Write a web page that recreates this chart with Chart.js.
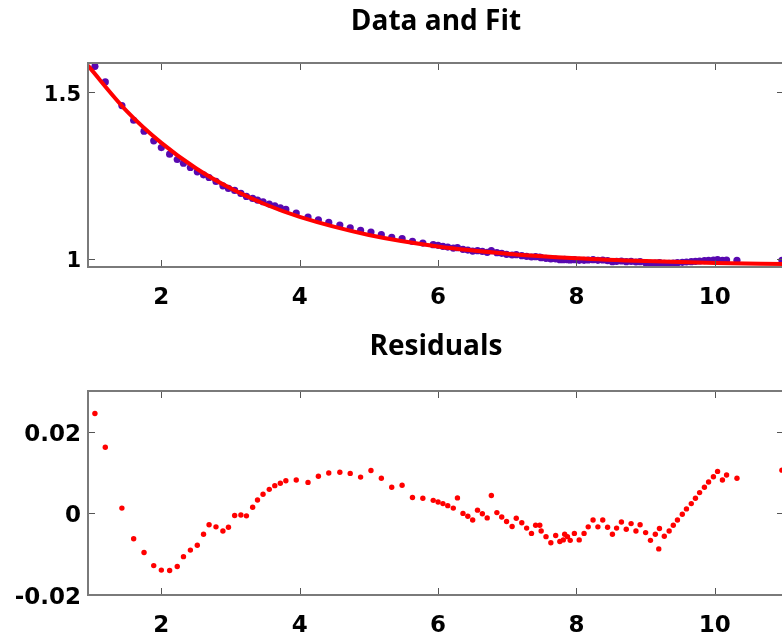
<!DOCTYPE html>
<html>
<head>
<meta charset="utf-8">
<script src="https://cdn.jsdelivr.net/npm/chart.js@4/dist/chart.umd.min.js"></script>
<style>
    html, body { margin: 0; padding: 0; background: #fff; overflow: hidden; }
    .panel { position: absolute; left: 0; }
    #fitPanel { top: 0; }
    #residPanel { top: 325px; }
</style>
</head>
<body>
<div class="panel" id="fitPanel"><canvas id="fitChart" width="800" height="325"></canvas></div>
<div class="panel" id="residPanel"><canvas id="residChart" width="800" height="318"></canvas></div>
<script>
// sample positions shared by both panels
const xVals = [
    1.04, 1.19, 1.43, 1.60, 1.75, 1.89, 2.00, 2.12, 2.23, 2.32,
    2.42, 2.52, 2.61, 2.69, 2.79, 2.89, 2.97, 3.06, 3.15, 3.23,
    3.32, 3.39, 3.47, 3.56, 3.64, 3.72, 3.80, 3.95, 4.12, 4.27,
    4.42, 4.58, 4.73, 4.88, 5.03, 5.18, 5.33, 5.48, 5.63, 5.78,
    5.93, 6.00, 6.07, 6.14, 6.22, 6.28, 6.36, 6.43, 6.50, 6.57,
    6.64, 6.71, 6.77, 6.85, 6.92, 6.99, 7.07, 7.13, 7.21, 7.28,
    7.35, 7.41, 7.47, 7.49, 7.56, 7.63, 7.70, 7.76, 7.81, 7.83,
    7.87, 7.91, 7.97, 8.04, 8.11, 8.17, 8.24, 8.31, 8.38, 8.45,
    8.52, 8.58, 8.65, 8.72, 8.79, 8.86, 8.92, 9.00, 9.07, 9.14,
    9.19, 9.20, 9.27, 9.34, 9.40, 9.46, 9.53, 9.59, 9.66, 9.72,
    9.78, 9.85, 9.91, 9.98, 10.04, 10.11, 10.17, 10.32, 10.97
];

const measured = [
    1.578, 1.531, 1.460, 1.416, 1.383, 1.354, 1.334, 1.314, 1.298, 1.287,
    1.274, 1.261, 1.252, 1.244, 1.232, 1.219, 1.211, 1.205, 1.196, 1.187,
    1.181, 1.176, 1.171, 1.164, 1.159, 1.153, 1.148, 1.137, 1.125, 1.117,
    1.109, 1.101, 1.093, 1.085, 1.080, 1.072, 1.064, 1.060, 1.052, 1.047,
    1.042, 1.040, 1.037, 1.035, 1.032, 1.033, 1.028, 1.026, 1.023, 1.024,
    1.022, 1.019, 1.024, 1.018, 1.016, 1.013, 1.011, 1.012, 1.009, 1.007,
    1.005, 1.006, 1.005, 1.003, 1.001, 0.999, 0.999, 0.997, 0.997, 0.998,
    0.997, 0.996, 0.997, 0.995, 0.995, 0.996, 0.997, 0.995, 0.996, 0.994,
    0.991, 0.992, 0.993, 0.991, 0.992, 0.990, 0.991, 0.988, 0.986, 0.987,
    0.983, 0.988, 0.986, 0.986, 0.987, 0.988, 0.989, 0.990, 0.991, 0.992,
    0.993, 0.994, 0.995, 0.996, 0.997, 0.995, 0.996, 0.995, 0.995
];

const residuals = [
    0.0245, 0.0162, 0.0013, -0.0062, -0.0096, -0.0128, -0.0139, -0.0140, -0.0130, -0.0106,
    -0.0090, -0.0078, -0.0051, -0.0028, -0.0033, -0.0043, -0.0034, -0.0005, -0.0004, -0.0006,
    0.0015, 0.0033, 0.0047, 0.0059, 0.0068, 0.0074, 0.0080, 0.0082, 0.0076, 0.0091,
    0.0099, 0.0101, 0.0098, 0.0089, 0.0105, 0.0086, 0.0064, 0.0069, 0.0039, 0.0037,
    0.0032, 0.0028, 0.0024, 0.0019, 0.0013, 0.0038, 0.0000, -0.0007, -0.0016, 0.0008,
    -0.0001, -0.0011, 0.0044, 0.0002, -0.0009, -0.0020, -0.0032, -0.0012, -0.0023, -0.0036,
    -0.0049, -0.0029, -0.0029, -0.0043, -0.0057, -0.0072, -0.0054, -0.0069, -0.0065, -0.0051,
    -0.0057, -0.0066, -0.0049, -0.0065, -0.0049, -0.0033, -0.0016, -0.0033, -0.0016, -0.0034,
    -0.0051, -0.0036, -0.0021, -0.0039, -0.0025, -0.0043, -0.0028, -0.0047, -0.0066, -0.0051,
    -0.0087, -0.0037, -0.0056, -0.0043, -0.0029, -0.0016, -0.0002, 0.0011, 0.0024, 0.0037,
    0.0051, 0.0064, 0.0077, 0.0090, 0.0103, 0.0082, 0.0094, 0.0086, 0.0106
];

// fitted curve, sampled along x
const fitX = [0.94, 1.5, 2, 2.5, 3, 3.5, 4, 5, 6, 7, 8, 9, 10, 11];
const fitY = [1.580, 1.4435, 1.348, 1.2718, 1.2115, 1.1635, 1.1254, 1.0711, 1.0367, 1.0151, 1.0014, 0.9928, 0.9873, 0.9839];

const xTicks = [2, 4, 6, 8, 10];
const fitTicks = [1, 1.5];
const fitTickLabels = ['1', '1.5'];
const residTicks = [-0.02, 0, 0.02];
const residTickLabels = ['-0.02', '0', '0.02'];

const tickFont = 'DejaVu Sans';
const titleFont = 'Open Sans';

function toPoints(xs, ys) {
    return xs.map((x, i) => ({ x: x, y: ys[i] }));
}

// box around the plot area with tick marks pointing inward
const framePlugin = {
    id: 'frame',
    afterDatasetsDraw(chart) {
        const ctx = chart.ctx;
        const a = chart.chartArea;
        const xs = chart.scales.x;
        const ys = chart.scales.y;
        ctx.save();
        ctx.strokeStyle = '#555';
        ctx.lineWidth = 1;
        ctx.beginPath();
        xs.ticks.forEach(t => {
            const px = Math.round(xs.getPixelForValue(t.value)) + 0.5;
            ctx.moveTo(px, a.bottom);
            ctx.lineTo(px, a.bottom - 7);
            ctx.moveTo(px, a.top);
            ctx.lineTo(px, a.top + 7);
        });
        ys.ticks.forEach(t => {
            const py = Math.round(ys.getPixelForValue(t.value)) + 0.5;
            ctx.moveTo(a.left, py);
            ctx.lineTo(a.left + 7, py);
            ctx.moveTo(a.right, py);
            ctx.lineTo(a.right - 7, py);
        });
        ctx.stroke();
        ctx.strokeStyle = '#7a7a7a';
        ctx.lineWidth = 2;
        ctx.strokeRect(a.left, a.top, a.right - a.left, a.bottom - a.top);
        ctx.restore();
    }
};

function makeOptions(title, yMin, yMax, yTicks, yLabels, yFontSize, titleBottom, xHeight) {
    return {
        responsive: false,
        animation: false,
        layout: { padding: { left: 0, right: 16, top: 0, bottom: 0 } },
        plugins: {
            legend: { display: false },
            tooltip: { enabled: false },
            title: {
                display: true,
                fullSize: false,
                text: title,
                color: '#000',
                font: { family: titleFont, size: 28, weight: 'bold', lineHeight: 1.2 },
                padding: { top: 5, bottom: titleBottom }
            }
        },
        scales: {
            x: {
                type: 'linear',
                min: 0.94,
                max: 11,
                grid: { display: false, drawTicks: false },
                border: { display: false },
                afterBuildTicks: scale => {
                    scale.ticks = xTicks.map(v => ({ value: v }));
                },
                afterFit: scale => { scale.height = xHeight; },
                ticks: {
                    color: '#000',
                    padding: 17,
                    font: { family: tickFont, size: 23, weight: 'bold', lineHeight: 1.2 },
                    callback: v => String(v)
                }
            },
            y: {
                type: 'linear',
                min: yMin,
                max: yMax,
                grid: { display: false, drawTicks: false },
                border: { display: false },
                afterBuildTicks: scale => {
                    scale.ticks = yTicks.map(v => ({ value: v }));
                },
                afterFit: scale => { scale.width = 88; },
                ticks: {
                    color: '#000',
                    padding: 7,
                    labelOffset: 3,
                    font: { family: tickFont, size: yFontSize, weight: 'bold' },
                    callback: (v, i) => yLabels[i]
                }
            }
        }
    };
}

new Chart(document.getElementById('fitChart'), {
    type: 'scatter',
    data: {
        datasets: [
            {
                label: 'Fit',
                data: toPoints(fitX, fitY),
                showLine: true,
                borderColor: '#ff0000',
                borderWidth: 4,
                pointRadius: 0,
                cubicInterpolationMode: 'monotone',
                clip: 0
            },
            {
                label: 'Data',
                data: toPoints(xVals, measured),
                backgroundColor: '#5808b0',
                borderWidth: 0,
                pointRadius: 3.6,
                clip: 0
            }
        ]
    },
    options: makeOptions('Data and Fit', 0.975, 1.588, fitTicks, fitTickLabels, 21, 24.4, 58),
    plugins: [framePlugin]
});

new Chart(document.getElementById('residChart'), {
    type: 'scatter',
    data: {
        datasets: [{
            label: 'Residuals',
            data: toPoints(xVals, residuals),
            backgroundColor: '#ff0000',
            borderWidth: 0,
            pointRadius: 2.7,
            clip: 0
        }]
    },
    options: makeOptions('Residuals', -0.02, 0.03, residTicks, residTickLabels, 23, 27.4, 48),
    plugins: [framePlugin]
});
</script>
</body>
</html>
